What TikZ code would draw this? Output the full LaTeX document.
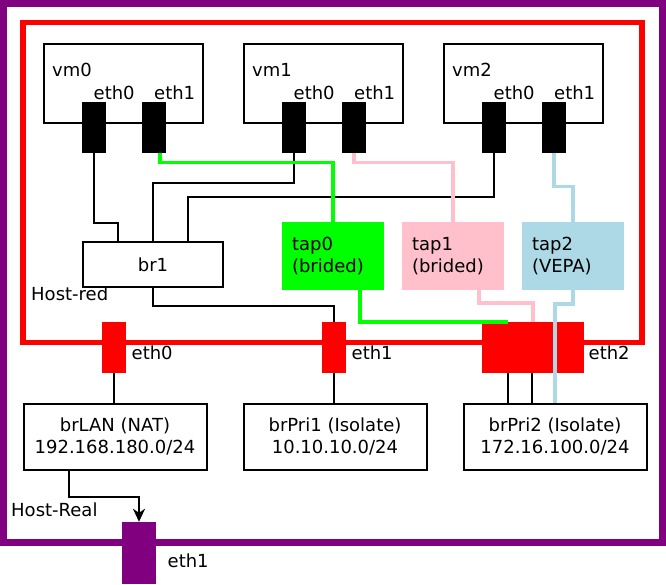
\documentclass[tikz,border=0pt]{standalone}
\usepackage{fontspec}
\setmainfont{DejaVu Sans}
\usetikzlibrary{arrows.meta}
\definecolor{vgreen}{HTML}{00FF00}
\definecolor{vpink}{HTML}{FFC0CB}
\definecolor{vblue}{HTML}{ADD8E6}
\definecolor{vred}{HTML}{FF0000}
\definecolor{vpurple}{HTML}{800080}
\begin{document}
\begin{tikzpicture}[x=1pt,y=-1pt,
  font=\fontsize{18}{22}\selectfont,
  box/.style={draw=black, line width=2pt, fill=white, inner sep=0pt},
  vmbox/.style={box, minimum width=159pt, minimum height=79pt},
  brbox/.style={box, minimum width=183pt, minimum height=66pt, align=center},
  port/.style={fill=black, inner sep=0pt, minimum width=24pt, minimum height=51pt},
  rport/.style={fill=vred, inner sep=0pt, minimum height=51pt},
  tapbox/.style={inner sep=0pt, inner xsep=10pt, minimum width=102pt, minimum height=68pt, text width=82pt, align=left},
  lbl/.style={anchor=base west, inner sep=0pt},
  wire/.style={line width=2pt, draw=black},
  cwire/.style={line width=3.5pt},
]
\useasboundingbox (0,0) rectangle (666,584);
% frames
\draw[vpurple, line width=7pt] (3,3.5) rectangle (662.5,542.5);
\draw[vred, line width=5.5pt] (23,22.5) rectangle (642,342.5);
% vm boxes
\node[vmbox] (vm0) at (123,83) {};
\node[vmbox] (vm1) at (323,83) {};
\node[vmbox] (vm2) at (523,83) {};
\node[lbl] (tvm0) at (52,76) {vm0};
\node[lbl] (tvm1) at (252,76) {vm1};
\node[lbl] (tvm2) at (452,76) {vm2};
\foreach \i/\dx in {0/0,1/200,2/400}{
  \node[lbl] (te\i0) at (93.5+\dx,99) {eth0};
  \node[lbl] (te\i1) at (154+\dx,99) {eth1};
  \node[port] (p\i0) at (94+\dx,127) {};
  \node[port] (p\i1) at (154+\dx,127) {};
}
% bridge br1 and taps
\node[box, minimum width=140pt, minimum height=45pt] (br1) at (153,264.5) {br1};
\node[lbl] (thr) at (31,300) {Host-red};
\node[tapbox, fill=vgreen] (tap0) at (333,256) {tap0\\(brided)};
\node[tapbox, fill=vpink] (tap1) at (453,256) {tap1\\(brided)};
\node[tapbox, fill=vblue] (tap2) at (573,256) {tap2\\(VEPA)};
% red host ports
\node[rport, minimum width=24pt] (re0) at (114,347.5) {};
\node[rport, minimum width=24pt] (re1) at (334,347.5) {};
\node[rport, minimum width=102pt] (re2) at (533,347.5) {};
\node[lbl] (tre0) at (131.5,359) {eth0};
\node[lbl] (tre1) at (351.5,359) {eth1};
\node[lbl] (tre2) at (588.5,359) {eth2};
% bottom bridges
\node[brbox] (brlan) at (115,436.5) {brLAN (NAT)\\192.168.180.0/24};
\node[brbox] (brpri1) at (335,436.5) {brPri1 (Isolate)\\10.10.10.0/24};
\node[brbox] (brpri2) at (555,436.5) {brPri2 (Isolate)\\172.16.100.0/24};
% real host port
\node[fill=vpurple, inner sep=0pt, minimum width=34pt, minimum height=62pt] (hp) at (139,553) {};
\node[lbl] (thp) at (167.5,567) {eth1};
\node[lbl] (threal) at (11,516) {Host-Real};
% black wires
\draw[wire] (p00.south) -- ++(0,70) -| ([xshift=-35pt]br1.north);
\draw[wire] (p10.south) -- ++(0,30) -| (br1.north);
\draw[wire] (p20.south) -- ++(0,44) -| ([xshift=35pt]br1.north);
\draw[wire] (br1.south) -- ++(0,18) -| (re1.north);
\draw[wire] (re0.south) -- (re0.south |- brlan.north);
\draw[wire] (re1.south) -- (re1.south |- brpri1.north);
\draw[wire] ([xshift=-25pt]re2.south) -- ([xshift=-25pt]re2.south |- brpri2.north);
\draw[wire] ([xshift=-1pt]re2.south) -- ([xshift=-1pt]re2.south |- brpri2.north);
\draw[wire, -{Stealth[length=13pt, width=12pt, inset=4pt]}] ([xshift=-46pt]brlan.south) -- ++(0,26) -| (hp.north);
% coloured wires
\draw[cwire, vgreen] ([xshift=6pt]p01.south) -- ++(0,10) -| (tap0.north);
\draw[cwire, vgreen] ([xshift=27pt]tap0.south) |- ([xshift=-25pt]re2.north);
\draw[cwire, vpink] (p11.south) -- ++(0,10) -| (tap1.north);
\draw[cwire, vpink] ([xshift=26pt]tap1.south) -- ++(0,13) -| (re2.north);
\draw[cwire, vblue] (p21.south) -- ++(0,34) -| (tap2.north);
\draw[cwire, vblue] (tap2.south) -- ++(0,14) -| (brpri2.north);
\end{tikzpicture}
\end{document}
